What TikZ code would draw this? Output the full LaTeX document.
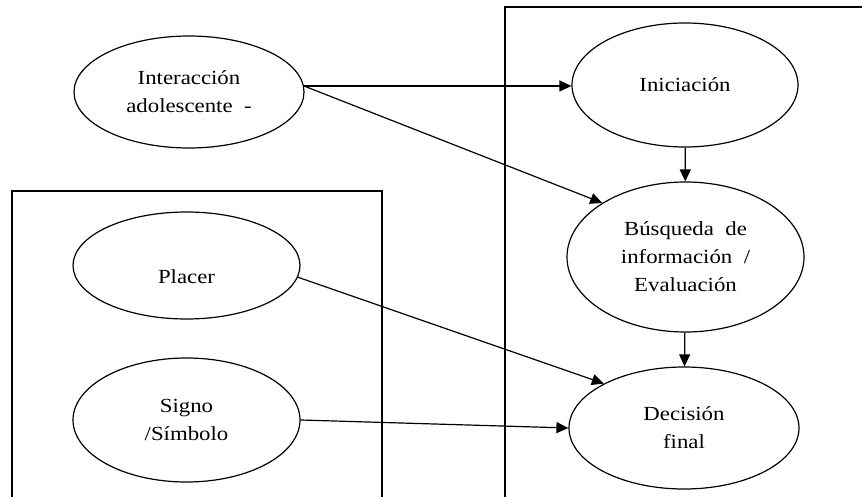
\documentclass[tikz,border=0pt]{standalone}
\usepackage{fontspec}
\setmainfont{Liberation Serif}[FakeStretch=1.14]
\usetikzlibrary{shapes.geometric,arrows.meta}

\tikzset{
  oval/.style={ellipse, draw, line width=1.2pt, inner sep=0pt, align=center,
    font=\fontsize{20}{28}\selectfont},
  frame/.style={line width=1.5pt},
  link/.style={line width=1.2pt, -{Triangle[length=12pt,width=11pt]}},
}

\begin{document}
\begin{tikzpicture}[x=1pt,y=-1pt]
  \useasboundingbox (0,0) rectangle (862,497);

  % open frames around the two groups
  \draw[frame] (505,497) -- (505,7) -- (862,7);
  \draw[frame] (12,497) -- (12,191) -- (382,191) -- (382,497);

  % left column
  \node[oval, minimum width=230pt, minimum height=112pt] (inter) at (189,92)
    {Interacción\\adolescente\ \ -};
  \node[oval, minimum width=227pt, minimum height=107pt,
        label={[font=\fontsize{20}{28}\selectfont, yshift=-11pt]center:Placer}] (placer) at (186.5,265.5) {};
  \node[oval, minimum width=227pt, minimum height=124pt] (signo) at (186.5,420)
    {Signo\\/Símbolo};

  % right column
  \node[oval, minimum width=226pt, minimum height=124pt] (ini) at (685,85)
    {Iniciación};
  \node[oval, minimum width=237pt, minimum height=150pt] (busq) at (685.5,257)
    {Búsqueda\ \ de\\información\ \ /\\Evaluación};
  \node[oval, minimum width=230pt, minimum height=122pt] (dec) at (684,428)
    {Decisión\\final};

  % connectors
  \coordinate (interout) at (inter.3);
  \draw[link] (interout) -- (interout -| ini.west);
  \draw[link] (interout) -- (busq.147);
  \draw[link] (ini) -- (busq);
  \draw[link] (busq) -- (dec);
  \draw[link] (placer.-6) -- (dec.151);
  \draw[link] (signo.east) -- (dec.west);
\end{tikzpicture}
\end{document}
